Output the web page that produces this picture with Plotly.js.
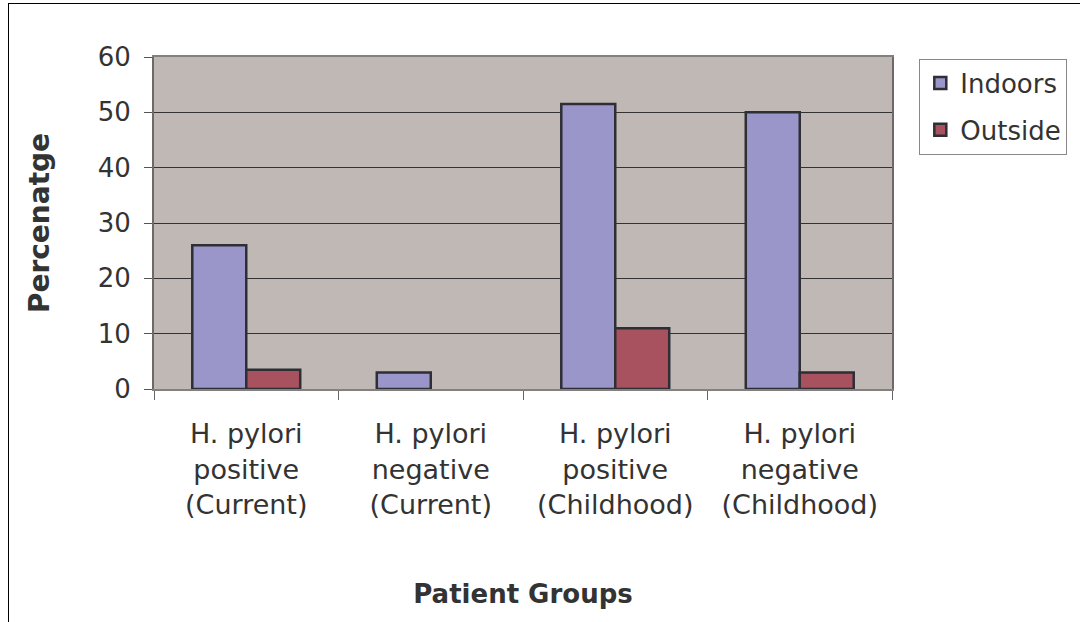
<!DOCTYPE html>
<html>
<head>
<meta charset="utf-8">
<script src="https://cdn.plot.ly/plotly-3.0.1.min.js"></script>
<style>
html, body { margin: 0; padding: 0; overflow: hidden; background: #fff; }
#chart { width: 1080px; height: 622px; }
#frame { position: absolute; left: 8px; top: 3px; width: 1100px; height: 700px; border: 1px solid #000; pointer-events: none; }
</style>
</head>
<body>
<div id="chart"></div>
<div id="frame"></div>
<script>
const categories = [
  "H. pylori<br>positive<br>(Current)",
  "H. pylori<br>negative<br>(Current)",
  "H. pylori<br>positive<br>(Childhood)",
  "H. pylori<br>negative<br>(Childhood)"
];
const indoors = [26, 3, 51.5, 50];
const outside = [3.5, 0, 11, 3];
const seriesNames = ["Indoors", "Outside"];
const yTicks = [0, 10, 20, 30, 40, 50, 60];

const FONT = "DejaVu Sans, Verdana, sans-serif";

const traces = [
  {
    type: "bar", name: seriesNames[0], x: categories, y: indoors,
    marker: { color: "#9B96C9", line: { color: "#2E2E35", width: 2.5 } },
    legendgroup: "a"
  },
  {
    type: "bar", name: seriesNames[1], x: categories, y: outside,
    marker: { color: "#A8515F", line: { color: "#2E2E35", width: outside.map(v => v === 0 ? 0 : 2.5) } },
    legendgroup: "b"
  }
];

const layout = {
  width: 1080, height: 622,
  margin: { l: 154, r: 188, t: 57, b: 233 },
  paper_bgcolor: "#FFFFFF",
  plot_bgcolor: "#C0B8B5",
  barmode: "group",
  bargap: 0.415,
  bargroupgap: 0,
  font: { family: FONT, color: "#333333", size: 26 },
  xaxis: {
    type: "category",
    tickson: "boundaries",
    ticks: "outside", ticklen: 9, tickcolor: "#666", tickwidth: 1,
    showline: true, linecolor: "#858080", linewidth: 2, mirror: true,
    showgrid: false,
    tickfont: { family: FONT, size: 27, color: "#333" },
    ticklabelstandoff: 20,
    title: { text: "<b>Patient Groups</b>", font: { family: FONT, size: 26, color: "#333" }, standoff: 66 },
    automargin: false
  },
  yaxis: {
    range: [0, 60],
    tickvals: yTicks,
    ticks: "outside", ticklen: 8, tickcolor: "#555", tickwidth: 1,
    showline: true, linecolor: "#706868", linewidth: 2, mirror: true,
    showgrid: true, gridcolor: "#333333", gridwidth: 1,
    zeroline: false,
    tickfont: { family: FONT, size: 26, color: "#333" },
    ticklabelstandoff: 8,
    title: { text: "<b>Percenatge</b>", font: { family: FONT, size: 28, color: "#333" }, standoff: 40 },
    automargin: false
  },
  showlegend: true,
  legend: {
    x: 1.037, xanchor: "left",
    y: 0.995, yanchor: "top",
    bgcolor: "#FFFFFF",
    bordercolor: "#888888", borderwidth: 1,
    font: { family: FONT, size: 26, color: "#333" },
    tracegroupgap: 10,
    itemwidth: 30
  }
};

Plotly.newPlot("chart", traces, layout, { displayModeBar: false, staticPlot: true });
</script>
</body>
</html>
